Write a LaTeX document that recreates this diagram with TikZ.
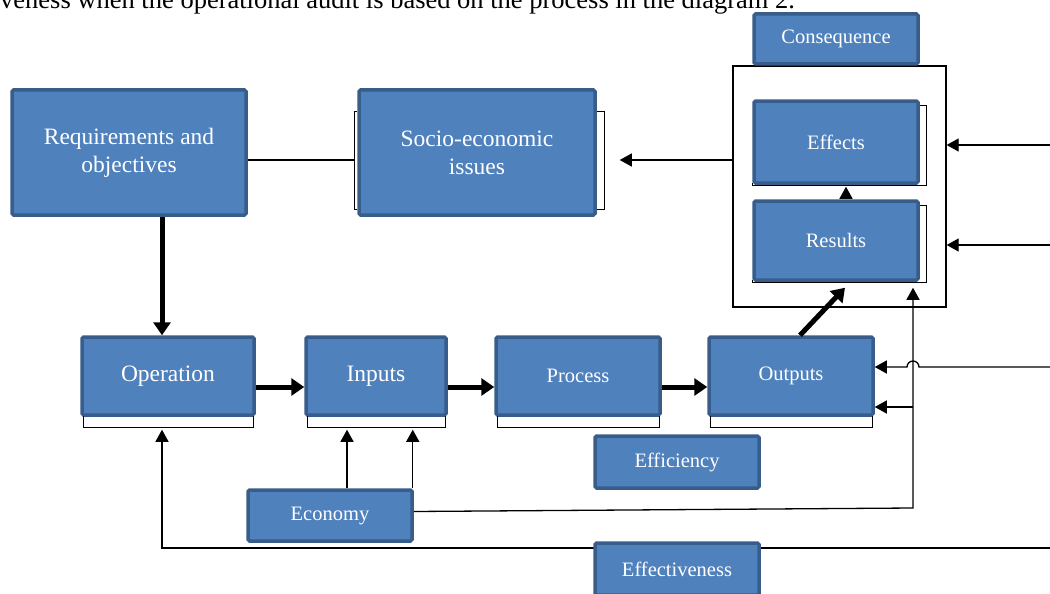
\documentclass[tikz,border=0pt]{standalone}
\usepackage{fontspec}
\setmainfont{Liberation Serif}
\usetikzlibrary{arrows.meta,calc}
\definecolor{boxfill}{HTML}{4F81BD}
\definecolor{boxline}{HTML}{385D8A}
\tikzset{stage/.style={draw=boxline,fill=boxfill,line width=3.5pt,rounded corners=1.5pt,text=white,align=center,inner sep=0pt},big/.style={font=\fontsize{23.5}{28}\selectfont},small/.style={font=\fontsize{20.5}{24}\selectfont},arr/.style={-{Triangle[length=12pt,width=13pt]},line width=1.3pt},fat/.style={-{Triangle[length=13pt,width=17pt]},line width=5pt},brk/.style={line width=1.3pt}}

\begin{document}
\begin{tikzpicture}[x=1pt,y=-1pt]
\useasboundingbox (0,0) rectangle (1050,594);
\node[anchor=base west,inner sep=0pt,font=\fontsize{26.5}{30}\selectfont] (cap) at (0,9) {veness when the operational audit is based on the process in the diagram 2.};
\node[draw,line width=1.3pt,minimum width=213pt,minimum height=241pt,inner sep=0pt] (frame) at (839.5,186.5) {};
\node[stage,big,minimum width=234pt,minimum height=125pt] (req) at (129,152.5) {Requirements and\\objectives};
\node[stage,big,minimum width=236pt,minimum height=125pt] (soc) at (477,152.5) {Socio-economic\\issues};
\node[stage,small,minimum width=164pt,minimum height=50pt] (cons) at (836,39) {Consequence};
\node[stage,small,minimum width=164pt,minimum height=82pt] (eff) at (836,142) {Effects};
\node[stage,small,minimum width=164pt,minimum height=79pt] (res) at (836,240.5) {Results};
\node[stage,big,minimum width=172pt,minimum height=78pt] (op) at (168,376) {Operation};
\node[stage,big,minimum width=140pt,minimum height=78pt] (inp) at (376,376) {Inputs};
\node[stage,small,minimum width=164pt,minimum height=78pt] (proc) at (578,376) {Process};
\node[stage,small,minimum width=164pt,minimum height=78pt] (out) at (791,376) {Outputs};
\node[stage,small,minimum width=164pt,minimum height=52pt] (effi) at (677,462) {Efficiency};
\node[stage,small,minimum width=164pt,minimum height=51pt] (eco) at (330,515.5) {Economy};
\coordinate (lowR) at (1050,548);
\draw[arr] (lowR) -- ($(lowR -| op.south)+(-6,0)$) -- ($(op.south)+(-6,13)$);
\node[stage,small,minimum width=164pt,minimum height=52pt] (effe) at (677,569) {Effectiveness};
\draw[brk] ($(soc.north west)+(0,23)$) -- ++(-3,0) -- ++(0,98) -- ++(3,0);
\draw[brk] ($(soc.north east)+(0,23)$) -- ++(8,0) -- ++(0,98) -- ++(-8,0);
\foreach \n in {eff,res}
  \draw[brk] ($(\n.north east)+(0,6)$) -| ($(\n.south east)+(7,1)$) -| ($(\n.south west)+(0,-2)$);
\foreach \n in {op,inp,proc,out}
  \draw[brk] ($(\n.south west)+(3,-1)$) -- ++(0,12) -| ($(\n.south east)+(-2,-1)$);
\draw[brk] ($(soc.west)+(-3,7.5)$) -- ($(req.east)+(0,7.5)$);
\draw[arr] ($(frame.west)+(0,-26.5)$) -- ($(soc.east)+(23,7.5)$);
\coordinate (inA) at (1050,145);
\coordinate (inB) at (1050,245);
\coordinate (inC) at (1050,367);
\coordinate (riser) at (913,508);
\draw[arr] (inA) -- (inA -| frame.east);
\draw[arr] (inB) -- (inB -| frame.east);
\draw[arr] (inC) -- ($(riser |- inC)+(6,0)$) arc[start angle=0,end angle=-180,radius=6] -- (inC -| out.east);
\draw[arr] ($(eco.east)+(0,-4)$) -- (riser) -- ($(riser |- res.south)+(0,6)$);
\draw[arr] ($(riser |- out.east)+(0,31)$) -- ($(out.east)+(0,31)$);
\draw[arr] ($(eco.north)+(17,0)$) coordinate (e1) -- ($(e1 |- inp.south)+(0,13)$);
\draw[arr] ($(eco.north east)+(-1,0)$) coordinate (e2) -- ($(e2 |- inp.south)+(0,13)$);
\draw[fat] ($(req.south)+(33,0)$) -- ($(op.north)+(-6,0)$);
\draw[fat] ($(op.east)+(0,11)$) -- ($(inp.west)+(0,11)$);
\draw[fat] ($(inp.east)+(0,11)$) -- ($(proc.west)+(0,11)$);
\draw[fat] ($(proc.east)+(0,11)$) -- ($(out.west)+(0,11)$);
\draw[fat] ($(out.north)+(9,0)$) -- ($(res.south)+(9,6)$);
\draw[arr] ($(res.north)+(10,0)$) -- ($(eff.south)+(10,2)$);
\end{tikzpicture}
\end{document}
